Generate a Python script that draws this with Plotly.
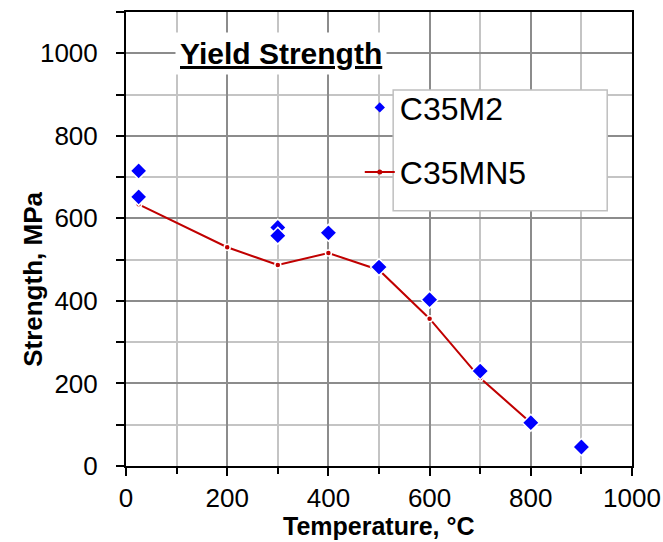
import plotly.graph_objects as go

# C35M2 measured yield strength (temperature in °C, strength in MPa)
m2_temp = [25, 25, 300, 300, 400, 500, 600, 700, 800, 900]
m2_strength = [715, 652, 578, 558, 565, 482, 403, 230, 105, 46]

# C35MN5 yield strength curve
mn5_temp = [25, 200, 300, 400, 500, 600, 700, 800]
mn5_strength = [634, 530, 487, 516, 475, 357, 213, 105]

x_ticks = [0, 200, 400, 600, 800, 1000]
y_ticks = [0, 200, 400, 600, 800, 1000]

FONT = "Liberation Sans, Arial, sans-serif"
BLUE = "#0000FF"
RED = "#C00000"

fig = go.Figure()

fig.add_trace(go.Scatter(
    x=mn5_temp, y=mn5_strength, mode="lines+markers", showlegend=False,
    line=dict(color=RED, width=2),
    marker=dict(symbol="circle", size=6, color=RED, line=dict(color="white", width=1.5)),
))
fig.add_trace(go.Scatter(
    x=m2_temp, y=m2_strength, mode="markers", showlegend=False,
    marker=dict(symbol="diamond", size=13, color=BLUE, line=dict(color="white", width=1.5)),
))

# legend entries
fig.add_trace(go.Scatter(
    x=[None], y=[None], mode="markers", name="C35M2", legendgroup="a",
    marker=dict(symbol="diamond", size=8, color=BLUE),
))
fig.add_trace(go.Scatter(
    x=[None], y=[None], mode="lines+markers", name="C35MN5", legendgroup="b",
    line=dict(color=RED, width=2),
    marker=dict(symbol="circle", size=5, color=RED),
))

grid_major = "#8c8c8c"
grid_minor = "#c4c4c4"

fig.update_xaxes(
    range=[0, 1000], tickvals=x_ticks, ticks="outside", ticklen=8, tickwidth=2,
    tickcolor="black", showline=True, linecolor="black", linewidth=2, mirror=True,
    showgrid=True, gridcolor=grid_major, gridwidth=2, zeroline=False, automargin=False,
    tickfont=dict(family=FONT, size=26, color="black"), ticklabelstandoff=0,
    minor=dict(dtick=100, tick0=0, showgrid=True, gridcolor=grid_minor, gridwidth=2,
               ticks="outside", ticklen=6, tickwidth=2, tickcolor="black"),
)
fig.update_yaxes(
    range=[0, 1100], tickvals=y_ticks, ticks="outside", ticklen=8, tickwidth=2,
    tickcolor="black", showline=True, linecolor="black", linewidth=2, mirror=True,
    showgrid=True, gridcolor=grid_major, gridwidth=2, zeroline=False, automargin=False,
    tickfont=dict(family=FONT, size=26, color="black"), ticklabelstandoff=13,
    minor=dict(dtick=100, tick0=0, showgrid=True, gridcolor=grid_minor, gridwidth=2,
               ticks="outside", ticklen=8, tickwidth=2, tickcolor="black"),
)

fig.add_annotation(
    text="<b><u>Yield Strength</u></b>", xref="x", yref="y", x=307, y=1000,
    showarrow=False, font=dict(family=FONT, size=30, color="black"),
    bgcolor="white", borderpad=4,
)
fig.add_annotation(
    text="<b>Temperature, °C</b>", xref="paper", yref="paper", x=0.5, y=0,
    yshift=-60, showarrow=False, yanchor="middle",
    font=dict(family=FONT, size=25, color="black"),
)
fig.add_annotation(
    text="<b>Strength, MPa</b>", xref="paper", yref="paper", x=0, y=0.41,
    xshift=-93, showarrow=False, textangle=-90, xanchor="center",
    font=dict(family=FONT, size=26, color="black"),
)

# white legend panel
fig.add_shape(
    type="rect", xref="paper", yref="paper", x0=0.528, x1=0.951, y0=0.562, y1=0.828,
    fillcolor="white", line=dict(color="#bfbfbf", width=1.5), layer="above",
)

fig.update_layout(
    width=663, height=542,
    margin=dict(l=126, r=31, t=12, b=76),
    plot_bgcolor="white", paper_bgcolor="white",
    legend=dict(
        x=0.462, y=0.85, xanchor="left", yanchor="top",
        bgcolor="rgba(0,0,0,0)", borderwidth=0,
        font=dict(family=FONT, size=32, color="black"),
        tracegroupgap=20, itemwidth=30,
    ),
)

fig.write_html("out.html")
